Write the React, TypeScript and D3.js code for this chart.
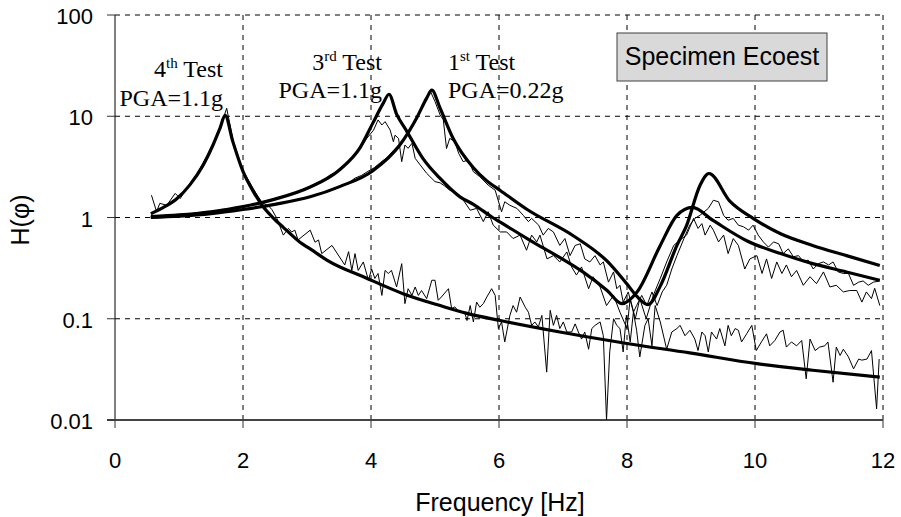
import React from "react";
import * as d3 from "d3";

type P = [number, number];

const xTicks = [0, 2, 4, 6, 8, 10, 12];
const yTicks = [0.01, 0.1, 1, 10, 100];
const yTickLabels = ["0.01", "0.1", "1", "10", "100"];

const test4Fit: P[] = [
  [0.56, 1.09], [0.75, 1.25], [0.97, 1.54], [1.17, 2.1], [1.375, 3.27], [1.53, 5.17], [1.64, 7.6], [1.72, 10.2],
  [1.84, 5.65], [2.0, 2.85], [2.16, 1.81], [2.31, 1.29], [2.5, 0.95], [2.63, 0.8], [2.89, 0.57], [3.05, 0.49],
  [3.31, 0.38], [3.94, 0.25], [4.5, 0.177], [5.08, 0.135], [5.5, 0.113], [6.02, 0.096], [6.95, 0.074],
  [8.0, 0.057], [8.98, 0.046], [10.03, 0.036], [10.9, 0.031], [11.95, 0.0265],
];

const test4Exp: P[] = [
  [0.57, 1.66], [0.65, 1.14], [0.7, 1.38], [0.81, 1.32], [0.94, 1.73], [1.02, 1.54], [1.17, 2.17], [1.3, 2.8],
  [1.45, 4.2], [1.55, 5.5], [1.65, 7.9], [1.745, 12], [1.85, 5.6], [2.0, 2.9], [2.1, 2.25], [2.2, 1.75], [2.3, 1.4],
  [2.4, 1.3], [2.45, 1.2], [2.53, 0.98], [2.63, 0.67], [2.71, 0.78], [2.76, 0.72], [2.81, 0.75], [2.86, 0.6],
  [3.05, 0.75], [3.125, 0.57], [3.18, 0.6], [3.23, 0.44], [3.39, 0.53], [3.59, 0.34], [3.65, 0.46], [3.7, 0.3],
  [3.75, 0.44], [3.8, 0.3], [3.88, 0.364], [3.96, 0.24], [4.01, 0.31], [4.06, 0.25], [4.11, 0.28], [4.17, 0.17],
  [4.22, 0.3], [4.27, 0.28], [4.32, 0.3], [4.4, 0.206], [4.48, 0.35], [4.53, 0.141], [4.58, 0.198], [4.64, 0.17],
  [4.69, 0.206], [4.74, 0.17], [4.79, 0.19], [4.87, 0.158], [4.95, 0.24], [5.0, 0.24], [5.05, 0.152], [5.1, 0.164],
  [5.21, 0.198], [5.26, 0.126], [5.31, 0.131], [5.36, 0.12], [5.47, 0.112], [5.5, 0.096], [5.55, 0.135],
  [5.6, 0.093], [5.65, 0.146], [5.7, 0.13], [5.755, 0.141], [5.81, 0.164], [5.885, 0.198], [5.94, 0.17],
  [5.99, 0.08], [6.04, 0.093], [6.09, 0.059], [6.17, 0.108], [6.22, 0.135], [6.275, 0.116], [6.33, 0.164],
  [6.41, 0.13], [6.46, 0.116], [6.51, 0.086], [6.56, 0.093], [6.615, 0.083], [6.67, 0.108], [6.745, 0.0297],
  [6.8, 0.121], [6.85, 0.086], [6.9, 0.108], [6.95, 0.08], [7.005, 0.093], [7.06, 0.074], [7.135, 0.074],
  [7.19, 0.089], [7.24, 0.074], [7.29, 0.063], [7.34, 0.074], [7.4, 0.05], [7.45, 0.08], [7.5, 0.086],
  [7.58, 0.093], [7.63, 0.068], [7.68, 0.01], [7.73, 0.047], [7.79, 0.1], [7.84, 0.086], [7.89, 0.08],
  [7.94, 0.047], [7.99, 0.108], [8.05, 0.059], [8.1, 0.116], [8.15, 0.077], [8.2, 0.042], [8.28, 0.086],
  [8.33, 0.1], [8.39, 0.054], [8.44, 0.135], [8.52, 0.093], [8.62, 0.05], [8.7, 0.074], [8.78, 0.08],
  [8.83, 0.086], [8.906, 0.068], [8.984, 0.077], [9.06, 0.063], [9.11, 0.0485], [9.17, 0.074], [9.22, 0.068],
  [9.27, 0.047], [9.32, 0.074], [9.4, 0.063], [9.45, 0.08], [9.53, 0.054], [9.58, 0.086], [9.63, 0.068],
  [9.69, 0.08], [9.74, 0.077], [9.79, 0.059], [9.87, 0.071], [9.95, 0.086], [10.02, 0.0485], [10.1, 0.059],
  [10.18, 0.071], [10.23, 0.054], [10.31, 0.061], [10.39, 0.074], [10.44, 0.077], [10.49, 0.0525],
  [10.57, 0.059], [10.65, 0.054], [10.73, 0.061], [10.8, 0.0255], [10.86, 0.063], [10.94, 0.0485],
  [11.01, 0.0525], [11.09, 0.054], [11.14, 0.059], [11.22, 0.0236], [11.27, 0.0525], [11.33, 0.0434],
  [11.38, 0.05], [11.46, 0.042], [11.54, 0.032], [11.62, 0.04], [11.67, 0.039], [11.75, 0.04], [11.82, 0.0485],
  [11.9, 0.0129], [11.94, 0.04],
];

const test3Fit: P[] = [
  [0.56, 1.02], [1.0, 1.06], [1.5, 1.14], [2.0, 1.28], [2.5, 1.52], [3.05, 2.0], [3.52, 3.0], [3.83, 4.9],
  [4.03, 8.6], [4.19, 13.4], [4.28, 16.5], [4.4, 10.5], [4.56, 7.1], [4.81, 3.84], [5.08, 2.43], [5.39, 1.6],
  [5.6, 1.35], [5.9, 1.0], [6.02, 0.9], [6.44, 0.62], [6.69, 0.5], [6.9, 0.42], [7.31, 0.29], [7.69, 0.19],
  [7.92, 0.141], [8.16, 0.185], [8.52, 0.53], [8.78, 1.05], [9.02, 1.26], [9.35, 0.93], [9.87, 0.59],
  [10.4, 0.44], [10.9, 0.35], [11.43, 0.29], [11.95, 0.24],
];

const test3Exp: P[] = [
  [0.56, 1.0], [0.65, 1.04], [0.75, 1.01], [0.85, 1.05], [0.95, 1.04], [1.05, 1.08], [1.15, 1.07], [1.25, 1.11],
  [1.35, 1.12], [1.45, 1.15], [1.55, 1.14], [1.65, 1.2], [1.75, 1.21], [1.85, 1.24], [1.95, 1.28], [2.05, 1.3],
  [2.15, 1.36], [2.25, 1.38], [2.35, 1.46], [2.45, 1.48], [2.55, 1.58], [2.65, 1.6], [2.75, 1.72], [2.85, 1.75],
  [2.95, 1.92], [3.05, 2.0], [3.15, 2.2], [3.25, 2.3], [3.35, 2.6], [3.45, 2.8], [3.55, 3.2], [3.65, 3.6],
  [3.75, 4.3], [3.83, 4.8], [3.93, 6.0], [4.04, 7.3], [4.11, 9.2], [4.17, 8.2], [4.22, 8.85], [4.3, 7.3],
  [4.35, 5.6], [4.375, 6.5], [4.43, 6.05], [4.48, 3.56], [4.53, 5.2], [4.58, 4.82], [4.64, 5.4], [4.69, 3.84],
  [4.77, 3.3], [4.87, 2.73], [5.0, 2.26], [5.08, 2.2], [5.15, 2.05], [5.23, 1.86], [5.34, 1.73], [5.44, 1.49],
  [5.55, 1.18], [5.65, 1.23], [5.755, 0.91], [5.83, 1.14], [5.91, 0.84], [6.02, 0.72], [6.12, 0.72],
  [6.22, 0.62], [6.33, 0.67], [6.43, 0.475], [6.51, 0.67], [6.59, 0.574], [6.64, 0.67], [6.75, 0.39],
  [6.85, 0.42], [6.95, 0.364], [7.06, 0.457], [7.135, 0.325], [7.21, 0.27], [7.29, 0.325], [7.4, 0.198],
  [7.47, 0.26], [7.58, 0.206], [7.68, 0.135], [7.79, 0.17], [7.89, 0.116], [8.0, 0.08], [8.05, 0.158],
  [8.13, 0.1], [8.2, 0.158], [8.3, 0.1], [8.41, 0.17], [8.52, 0.25], [8.62, 0.364], [8.73, 0.53], [8.83, 0.6],
  [8.93, 0.67], [9.04, 0.98], [9.11, 0.78], [9.17, 0.87], [9.22, 0.67], [9.3, 0.84], [9.35, 0.75],
  [9.43, 0.574], [9.51, 0.67], [9.58, 0.44], [9.66, 0.62], [9.74, 0.53], [9.84, 0.31], [9.92, 0.39],
  [10.03, 0.42], [10.11, 0.28], [10.18, 0.39], [10.26, 0.25], [10.34, 0.364], [10.42, 0.28], [10.49, 0.34],
  [10.57, 0.26], [10.65, 0.3], [10.755, 0.214], [10.86, 0.26], [10.96, 0.222], [11.07, 0.29], [11.17, 0.206],
  [11.27, 0.214], [11.38, 0.184], [11.48, 0.19], [11.59, 0.19], [11.67, 0.146], [11.74, 0.184],
  [11.82, 0.158], [11.87, 0.2], [11.95, 0.135],
];

const test1Fit: P[] = [
  [0.56, 1.0], [1.0, 1.03], [1.5, 1.09], [2.0, 1.2], [2.5, 1.35], [3.05, 1.6], [3.52, 2.03], [4.03, 2.9],
  [4.45, 5.2], [4.72, 9.8], [4.87, 15.1], [4.95, 18.1], [5.08, 12], [5.28, 6.1], [5.6, 3.1], [5.81, 2.3],
  [6.02, 1.85], [6.44, 1.2], [7.16, 0.66], [7.69, 0.37], [8.0, 0.22], [8.16, 0.165], [8.33, 0.138],
  [8.52, 0.21], [8.78, 0.53], [8.93, 0.83], [9.14, 2.07], [9.28, 2.72], [9.61, 1.44], [9.97, 0.98],
  [10.4, 0.69], [10.9, 0.53], [11.43, 0.42], [11.95, 0.335],
];

const test1Exp: P[] = [
  [0.56, 1.02], [0.65, 0.99], [0.75, 1.02], [0.85, 1.0], [0.95, 1.04], [1.05, 1.03], [1.15, 1.06], [1.25, 1.05],
  [1.35, 1.09], [1.45, 1.08], [1.55, 1.12], [1.65, 1.11], [1.75, 1.16], [1.85, 1.15], [1.95, 1.2], [2.05, 1.2],
  [2.15, 1.25], [2.25, 1.26], [2.35, 1.31], [2.45, 1.32], [2.55, 1.38], [2.65, 1.4], [2.75, 1.46], [2.85, 1.48],
  [2.95, 1.56], [3.05, 1.6], [3.15, 1.7], [3.25, 1.74], [3.35, 1.86], [3.45, 1.92], [3.55, 2.1], [3.65, 2.2],
  [3.75, 2.45], [3.85, 2.6], [3.95, 2.85], [4.05, 3.1], [4.15, 3.5], [4.25, 3.9], [4.35, 4.6], [4.45, 5.3],
  [4.55, 6.4], [4.63, 7.6], [4.71, 9.2], [4.78, 11.5], [4.84, 14], [4.93, 17.5], [5.0, 14], [5.08, 10.3],
  [5.13, 9.2], [5.18, 4.8], [5.23, 6.05], [5.31, 5.6], [5.37, 4.3], [5.44, 3.56], [5.52, 3.7], [5.6, 2.83],
  [5.7, 2.53], [5.83, 2.09], [5.94, 1.86], [6.04, 1.14], [6.09, 1.43], [6.17, 1.32], [6.28, 1.23],
  [6.38, 1.05], [6.46, 0.91], [6.51, 0.98], [6.62, 0.84], [6.69, 0.67], [6.77, 0.78], [6.85, 0.72],
  [6.95, 0.53], [7.03, 0.62], [7.11, 0.42], [7.19, 0.53], [7.27, 0.55], [7.34, 0.39], [7.42, 0.364],
  [7.5, 0.42], [7.58, 0.34], [7.63, 0.364], [7.71, 0.23], [7.79, 0.29], [7.84, 0.198], [7.89, 0.214],
  [7.94, 0.146], [8.02, 0.184], [8.1, 0.116], [8.15, 0.135], [8.23, 0.17], [8.31, 0.135], [8.39, 0.184],
  [8.47, 0.135], [8.55, 0.184], [8.62, 0.214], [8.7, 0.31], [8.78, 0.42], [8.89, 0.62], [8.98, 0.84],
  [9.06, 0.98], [9.14, 1.05], [9.27, 1.23], [9.35, 1.48], [9.43, 1.43], [9.51, 1.05], [9.58, 0.94],
  [9.66, 0.98], [9.74, 0.84], [9.82, 0.81], [9.9, 0.75], [9.97, 0.84], [10.05, 0.67], [10.13, 0.574],
  [10.21, 0.51], [10.29, 0.574], [10.37, 0.55], [10.44, 0.44], [10.52, 0.49], [10.6, 0.41], [10.68, 0.42],
  [10.76, 0.364], [10.83, 0.38], [10.91, 0.31], [10.99, 0.35], [11.07, 0.364], [11.15, 0.34], [11.22, 0.364],
  [11.3, 0.29], [11.38, 0.28], [11.46, 0.28], [11.54, 0.214], [11.62, 0.23], [11.69, 0.236], [11.77, 0.214],
  [11.85, 0.23], [11.95, 0.236],
];

const fitSeries = [test4Fit, test3Fit, test1Fit];
const expSeries = [test4Exp, test3Exp, test1Exp];

const W = 901;
const H = 517;
const M = { left: 115, right: 883, top: 15, bottom: 420 };

export default function App() {
  const x = d3.scaleLinear().domain([0, 12]).range([M.left, M.right]);
  const y = d3.scaleLog().domain([0.01, 100]).range([M.bottom, M.top]);
  const fitLine = d3
    .line<P>()
    .x((d) => x(d[0]))
    .y((d) => y(d[1]))
    .curve(d3.curveMonotoneX);
  const expLine = d3
    .line<P>()
    .x((d) => x(d[0]))
    .y((d) => y(d[1]));

  const sans = "Arial, 'Liberation Sans', sans-serif";
  const serif = "'Times New Roman', 'Liberation Serif', serif";

  return (
    <svg
      width={W}
      height={H}
      style={{ position: "absolute", left: 0, top: 0, background: "#fff" }}
    >
      {/* grid */}
      {yTicks.slice(1).map((t) => (
        <line key={"gy" + t} x1={M.left} x2={M.right} y1={y(t)} y2={y(t)} stroke="#000" strokeWidth={1} strokeDasharray="5,5" />
      ))}
      {xTicks.slice(1).map((t) => (
        <line key={"gx" + t} x1={x(t)} x2={x(t)} y1={M.top} y2={M.bottom} stroke="#000" strokeWidth={1} strokeDasharray="5,5" />
      ))}
      {/* axes */}
      <line x1={M.left} x2={M.left} y1={M.top} y2={M.bottom} stroke="#000" strokeWidth={1} />
      <line x1={M.left - 8} x2={M.right} y1={M.bottom} y2={M.bottom} stroke="#444" strokeWidth={2} />
      {yTicks.map((t) => (
        <line key={"ty" + t} x1={M.left - 8} x2={M.left} y1={y(t)} y2={y(t)} stroke="#333" strokeWidth={1} />
      ))}
      {xTicks.map((t) => (
        <line key={"tx" + t} x1={x(t)} x2={x(t)} y1={M.bottom} y2={M.bottom + 8} stroke="#333" strokeWidth={1} />
      ))}
      {yTicks.map((t, i) => (
        <text key={"ly" + t} x={93} y={y(t) + 9} textAnchor="end" fontFamily={sans} fontSize={22} fill="#000">
          {yTickLabels[i]}
        </text>
      ))}
      {xTicks.map((t) => (
        <text key={"lx" + t} x={x(t)} y={468} textAnchor="middle" fontFamily={sans} fontSize={22} fill="#000">
          {t}
        </text>
      ))}
      <text x={500} y={511} textAnchor="middle" fontFamily={sans} fontSize={25} fill="#000">
        Frequency [Hz]
      </text>
      <text transform="translate(29,220) rotate(-90)" textAnchor="middle" fontFamily={sans} fontSize={25} fill="#000">
        H(φ)
      </text>

      {/* series */}
      {expSeries.map((s, i) => (
        <path key={"e" + i} d={expLine(s) || ""} fill="none" stroke="#000" strokeWidth={1} strokeLinejoin="round" />
      ))}
      {fitSeries.map((s, i) => (
        <path key={"f" + i} d={fitLine(s) || ""} fill="none" stroke="#000" strokeWidth={3.2} strokeLinejoin="round" />
      ))}

      {/* annotations */}
      <text x={223} y={77} textAnchor="end" fontFamily={serif} fontSize={24} fill="#000">
        4<tspan fontSize={15} dy={-9}>th</tspan>
        <tspan dy={9}> Test</tspan>
      </text>
      <text x={223} y={106} textAnchor="end" fontFamily={serif} fontSize={24} fill="#000">PGA=1.1g</text>
      <text x={382} y={70} textAnchor="end" fontFamily={serif} fontSize={24} fill="#000">
        3<tspan fontSize={15} dy={-9}>rd</tspan>
        <tspan dy={9}> Test</tspan>
      </text>
      <text x={382} y={98} textAnchor="end" fontFamily={serif} fontSize={24} fill="#000">PGA=1.1g</text>
      <text x={448} y={70} textAnchor="start" fontFamily={serif} fontSize={24} fill="#000">
        1<tspan fontSize={15} dy={-9}>st</tspan>
        <tspan dy={9}> Test</tspan>
      </text>
      <text x={448} y={98} textAnchor="start" fontFamily={serif} fontSize={24} fill="#000">PGA=0.22g</text>

      {/* legend box */}
      <rect x={617} y={33} width={210} height={48} fill="#d9d9d9" stroke="#404040" strokeWidth={1} />
      <text x={722} y={65} textAnchor="middle" fontFamily={sans} fontSize={25} fill="#000">
        Specimen Ecoest
      </text>
    </svg>
  );
}
